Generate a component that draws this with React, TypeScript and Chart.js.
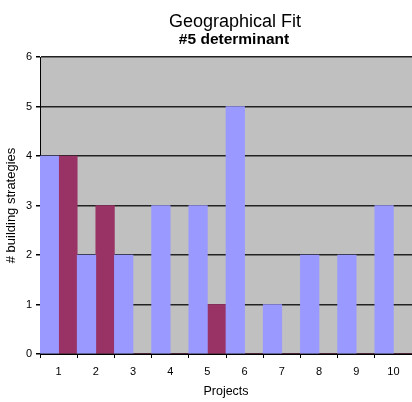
import React, { useEffect, useRef } from "react";
import { Chart, registerables } from "chart.js";

Chart.register(...registerables);

const categories = ["1", "2", "3", "4", "5", "6", "7", "8", "9", "10"];
const seriesA = [4, 2, 2, 3, 3, 5, 1, 2, 2, 3];
const seriesB = [4, 3, 0, 0, 1, 0, 0, 0, 0, 0];
const titleText = "Geographical Fit";
const subtitleText = "#5 determinant";
const xTitle = "Projects";
const yTitle = "# building strategies";

const FONT = "'Liberation Sans', Arial, sans-serif";

const bgPlugin = {
  id: "plotBg",
  beforeDraw(chart: any) {
    const { ctx, chartArea } = chart;
    ctx.save();
    ctx.fillStyle = "#C0C0C0";
    ctx.fillRect(chartArea.left, chartArea.top, chartArea.right - chartArea.left, chartArea.bottom - chartArea.top);
    ctx.restore();
  },
  afterDraw(chart: any) {
    const { ctx } = chart;
    ctx.save();
    ctx.fillStyle = "#000";
    ctx.textAlign = "center";
    ctx.textBaseline = "alphabetic";
    ctx.font = `18px ${FONT}`;
    ctx.fillText(titleText, 235, 27);
    ctx.font = `bold 15.5px ${FONT}`;
    ctx.fillText(subtitleText, 234, 44);
    ctx.restore();
  },
};

export default function App() {
  const ref = useRef<HTMLCanvasElement>(null);
  useEffect(() => {
    const chart = new Chart(ref.current!, {
      type: "bar",
      data: {
        labels: categories,
        datasets: [
          { data: seriesA, backgroundColor: "#9999FF", borderWidth: 0 },
          { data: seriesB, backgroundColor: "#993366", borderWidth: 0 },
        ],
      },
      options: {
        animation: false,
        responsive: false,
        maintainAspectRatio: false,
        layout: { padding: { top: 57, right: 0, bottom: 0, left: 0 } },
        datasets: { bar: { barPercentage: 1, categoryPercentage: 1 } },
        plugins: { legend: { display: false }, tooltip: { enabled: false } },
        scales: {
          x: {
            afterFit(s: any) { s.height = 48; },
            grid: { offset: true, drawOnChartArea: false, drawTicks: true, tickLength: 4, tickColor: "#000", color: "#000" },
            border: { color: "#000", width: 1 },
            ticks: { color: "#000", font: { family: FONT, size: 11 }, padding: 7, maxRotation: 0 },
            title: { display: true, text: xTitle, color: "#000", font: { family: FONT, size: 12.5 }, padding: { top: 0, bottom: 3 } },
          },
          y: {
            min: 0,
            max: 6,
            afterFit(s: any) { s.width = 40; },
            grid: { color: "#222", lineWidth: 1.5, drawTicks: true, tickLength: 4, tickColor: "#000" },
            border: { color: "#000", width: 1 },
            ticks: { stepSize: 1, color: "#000", font: { family: FONT, size: 11 }, padding: 4 },
            title: { display: true, text: yTitle, color: "#000", font: { family: FONT, size: 13 }, padding: { top: 4, bottom: 0 } },
          },
        },
      },
      plugins: [bgPlugin],
    });
    return () => chart.destroy();
  }, []);
  return (
    <div style={{ position: "absolute", left: 0, top: 0, width: 412, height: 402, background: "#fff" }}>
      <canvas ref={ref} width={412} height={402} style={{ display: "block", width: 412, height: 402 }} />
    </div>
  );
}
